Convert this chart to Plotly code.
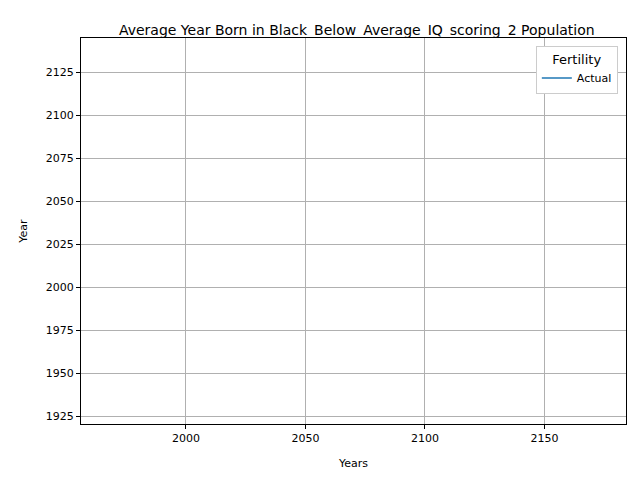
import plotly.graph_objects as go

years = [None]
avg_year_born = [None]
x_range = [1956.1, 2184.1]
y_range = [1920.4, 2144.8]
x_ticks = [2000, 2050, 2100, 2150]
y_ticks = [1925, 1950, 1975, 2000, 2025, 2050, 2075, 2100, 2125]

fig = go.Figure()
fig.add_trace(go.Scatter(x=years, y=avg_year_born, mode="lines", name="Actual",
                         line=dict(color="#1f77b4", width=1.5), showlegend=True))
axis_common = dict(showline=True, linecolor="black", mirror=True, ticks="outside",
                   ticklen=4, tickcolor="black", showgrid=True, gridcolor="#b0b0b0",
                   gridwidth=1, zeroline=False, tickfont=dict(size=11, color="black"))
fig.update_xaxes(range=x_range, tickvals=x_ticks, title=dict(text="Years", font=dict(size=11)), **axis_common)
fig.update_yaxes(range=y_range, tickvals=y_ticks, title=dict(text="Year", font=dict(size=11)), **axis_common)
fig.update_layout(
    width=640, height=480, plot_bgcolor="white", paper_bgcolor="white",
    margin=dict(l=73, r=22, t=30, b=64),
    font=dict(family="DejaVu Sans", color="black"),
    showlegend=True,
    title=dict(text="Average Year Born in Black_Below_Average_IQ_scoring_2 Population",
               x=0.545, xanchor="center", y=0.955, yanchor="middle", font=dict(size=14)),
    legend=dict(title=dict(text="Fertility", side="top center"), x=0.985, y=0.98, xanchor="right", yanchor="top",
                bordercolor="#cccccc", borderwidth=1, bgcolor="white", font=dict(size=11)),
)
fig.write_html("out.html")
